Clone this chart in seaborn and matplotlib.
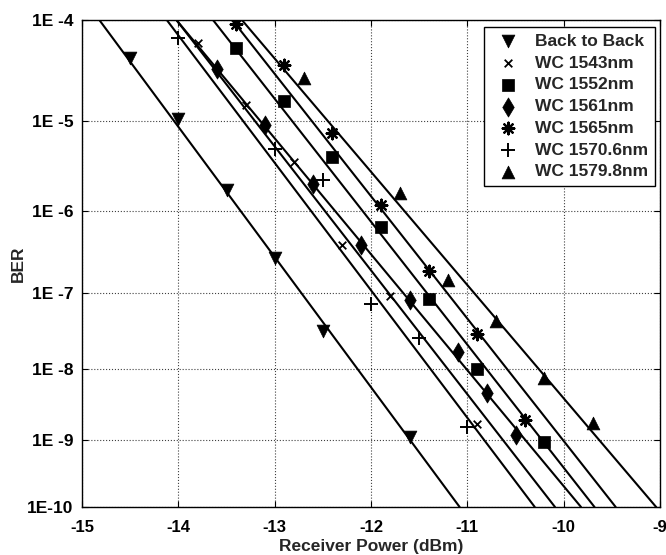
import math
import numpy as np
import pandas as pd
import seaborn as sns
import matplotlib
matplotlib.use("Agg")
import matplotlib.pyplot as plt
from matplotlib.ticker import NullLocator

# measured BER curves (receiver power in dBm)
series_names = ['Back to Back', 'WC 1543nm', 'WC 1552nm', 'WC 1561nm',
                'WC 1565nm', 'WC 1570.6nm', 'WC 1579.8nm']

power_b2b = [-14.5, -14.0, -13.5, -13.0, -12.5, -11.6]
ber_b2b = [4.3e-5, 1.05e-5, 1.75e-6, 2.7e-7, 3.2e-8, 1.1e-9]

power_1543 = [-13.8, -13.3, -12.8, -12.3, -11.8, -10.9]
ber_1543 = [6.0e-5, 1.46e-5, 3.6e-6, 3.9e-7, 9.2e-8, 1.7e-9]

power_1552 = [-13.4, -12.9, -12.4, -11.9, -11.4, -10.9, -10.2]
ber_1552 = [5.4e-5, 1.6e-5, 4.1e-6, 6.4e-7, 8.3e-8, 9.9e-9, 9.3e-10]

power_1561 = [-13.6, -13.1, -12.6, -12.1, -11.6, -11.1, -10.8, -10.5]
ber_1561 = [3.4e-5, 9.0e-6, 2.0e-6, 3.9e-7, 8.1e-8, 1.7e-8, 4.7e-9, 1.2e-9]

power_1565 = [-13.4, -12.9, -12.4, -11.9, -11.4, -10.9, -10.4]
ber_1565 = [9.2e-5, 3.7e-5, 7.4e-6, 1.15e-6, 1.9e-7, 2.9e-8, 1.95e-9]

power_1570 = [-14.0, -13.0, -12.5, -12.0, -11.5, -11.0]
ber_1570 = [6.7e-5, 4.9e-6, 2.25e-6, 7.2e-8, 2.6e-8, 1.55e-9]

power_1579 = [-12.7, -11.7, -11.2, -10.7, -10.2, -9.7]
ber_1579 = [2.75e-5, 1.6e-6, 1.45e-7, 4.3e-8, 7.6e-9, 1.75e-9]

# fitted lines: receiver power where each fit hits BER 1e-4 and 1e-10
fit_ber = [1e-4, 1e-10]
fit_power_top = [-14.82, -14.02, -13.64, -14.02, -13.44, -14.12, -13.34]
fit_power_bottom = [-11.08, -10.09, -9.68, -9.82, -9.46, -10.30, -9.04]

yticks = [1e-4, 1e-5, 1e-6, 1e-7, 1e-8, 1e-9, 1e-10]
ytick_labels = ['1E -4', '1E -5', '1E -6', '1E -7', '1E -8', '1E -9', '1E-10']
xticks = [-15, -14, -13, -12, -11, -10, -9]

powers = [power_b2b, power_1543, power_1552, power_1561, power_1565, power_1570, power_1579]
bers = [ber_b2b, ber_1543, ber_1552, ber_1561, ber_1565, ber_1570, ber_1579]

# marker, size, line width
styles = [('v', 85, 0.5), ('x', 30, 1.3), ('s', 70, 0.5), ('d', 95, 0.5),
          ((8, 2, 0), 70, 1.6), ('+', 90, 1.4), ('^', 85, 0.5)]

# Q-factor scale for BER (linear in Q)
_erfc = np.vectorize(math.erfc, otypes=[float])


def ber_to_q(ber):
    ber = np.clip(np.asarray(ber, dtype=float), 1e-300, 0.5)
    lo = np.zeros_like(ber)
    hi = np.full_like(ber, 40.0)
    for _ in range(60):
        mid = (lo + hi) / 2
        above = 0.5 * _erfc(mid / math.sqrt(2)) > ber
        lo = np.where(above, mid, lo)
        hi = np.where(above, hi, mid)
    return (lo + hi) / 2


def q_to_ber(q):
    return 0.5 * _erfc(np.asarray(q, dtype=float) / math.sqrt(2))


sns.set_style('ticks')
plt.rcParams['font.family'] = ['Liberation Sans', 'DejaVu Sans']
plt.rcParams['font.size'] = 12.5
plt.rcParams['font.weight'] = 'bold'
plt.rcParams['axes.labelweight'] = 'bold'

fig = plt.figure(figsize=(6.66, 5.55), dpi=100)
ax = fig.add_axes([82 / 666, 48 / 555, 578 / 666, 487 / 555])
ax.set_yscale('function', functions=(ber_to_q, q_to_ber))

for i, name in enumerate(series_names):
    fit = pd.DataFrame({'power': [fit_power_top[i], fit_power_bottom[i]], 'ber': fit_ber})
    sns.lineplot(data=fit, x='power', y='ber', color='black', linewidth=1.5,
                 estimator=None, sort=False, label='_nolegend_', legend=False, ax=ax)

for i, name in enumerate(series_names):
    df = pd.DataFrame({'power': powers[i], 'ber': bers[i]})
    marker, size, lw = styles[i]
    sns.scatterplot(data=df, x='power', y='ber', marker=marker, s=size, color='black',
                    edgecolor='black', linewidth=lw, label=name, ax=ax, zorder=3)

ax.set_xlim(-15, -9)
# Q grows as BER falls, so 1E-4 sits at the top
ax.set_ylim(1e-4, 1e-10)
ax.set_xticks(xticks)
ax.set_xticklabels([str(t) for t in xticks])
ax.set_yticks(yticks)
ax.set_yticklabels(ytick_labels)
ax.yaxis.set_minor_locator(NullLocator())
ax.xaxis.set_minor_locator(NullLocator())

ax.grid(True, linestyle=':', color='0.25', linewidth=0.8)
ax.tick_params(direction='in', top=True, right=True, length=4, width=0.8,
               colors='black')
ax.tick_params(axis='y', labelsize=12.5, pad=6)
ax.tick_params(axis='x', labelsize=12, pad=9)
for sp in ax.spines.values():
    sp.set_color('black')
    sp.set_linewidth(1.0)

ax.set_xlabel('Receiver Power (dBm)', fontsize=12.5, labelpad=3)
ax.set_ylabel('BER', fontsize=12.5, labelpad=1)

leg = ax.legend(loc='upper right', bbox_to_anchor=(0.991, 0.986), borderaxespad=0,
                frameon=True, fancybox=False, edgecolor='black', framealpha=1,
                handlelength=2.0, handletextpad=0.55, borderpad=0.4,
                labelspacing=0.38, fontsize=12.5)
leg.get_frame().set_linewidth(1.0)

fig.savefig('out.png', dpi=100)
